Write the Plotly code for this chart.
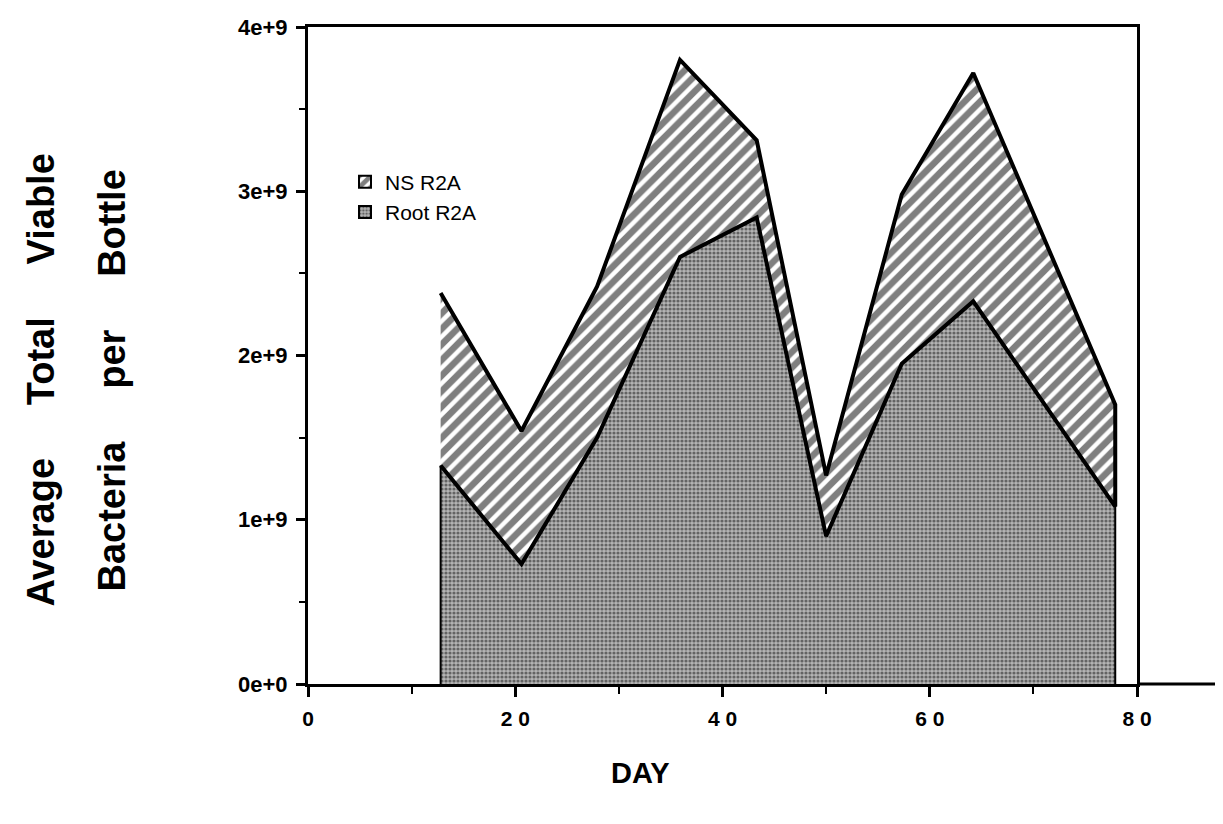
import plotly.graph_objects as go

# ---- data ----
days = [12.8, 20.6, 27.9, 35.9, 43.3, 50.0, 57.3, 64.2, 77.9]
root_r2a = [1.33e9, 0.73e9, 1.50e9, 2.60e9, 2.84e9, 0.90e9, 1.95e9, 2.33e9, 1.08e9]
ns_r2a = [1.05e9, 0.81e9, 0.92e9, 1.20e9, 0.47e9, 0.37e9, 1.03e9, 1.39e9, 0.62e9]

x_tickvals = [0, 20, 40, 60, 80]
x_ticktext = ["0", "2 0", "4 0", "6 0", "8 0"]
y_tickvals = [0, 1e9, 2e9, 3e9, 4e9]
y_ticktext = ["0e+0", "1e+9", "2e+9", "3e+9", "4e+9"]

# stacked top
top = [r + n for r, n in zip(root_r2a, ns_r2a)]

W, H = 1223, 824
L, R, T, B = 300, 94, 7, 148
pw, ph = W - L - R, H - T - B

NS_PATTERN = dict(shape="/", fgcolor="black", bgcolor="white", size=11, solidity=0.6)
ROOT_PATTERN = dict(shape=".", fgcolor="#111111", bgcolor="#b4b4b4", size=4, solidity=0.5)

fig = go.Figure()

# Root R2A (stippled) polygon down to the baseline
fig.add_trace(go.Scatter(
    x=[days[0]] + days + [days[-1]],
    y=[0] + root_r2a + [0],
    mode="lines", fill="toself",
    fillcolor="#8f8f8f", fillpattern=ROOT_PATTERN,
    line=dict(color="black", width=2),
    showlegend=False, hoverinfo="skip",
))

# NS R2A (hatched) band stacked on top
fig.add_trace(go.Scatter(
    x=days + days[::-1],
    y=top + root_r2a[::-1],
    mode="lines", fill="toself",
    fillcolor="white", fillpattern=NS_PATTERN,
    line=dict(color="black", width=4),
    showlegend=False, hoverinfo="skip",
))

# legend swatches (square patterned boxes)
fig.add_trace(go.Bar(x=[None], y=[None], name="NS R2A", legendgroup="ns",
                     marker=dict(color="white", pattern=NS_PATTERN, line=dict(color="black", width=2))))
fig.add_trace(go.Bar(x=[None], y=[None], name="Root R2A", legendgroup="root",
                     marker=dict(color="#8f8f8f", pattern=ROOT_PATTERN, line=dict(color="black", width=2))))

tickfont_y = dict(family="Liberation Sans", size=22, color="black", weight="bold")
tickfont_x = dict(family="Liberation Sans", size=21, color="black", weight="bold")

fig.update_layout(
    width=W, height=H,
    margin=dict(l=L, r=R, t=T, b=B),
    paper_bgcolor="white", plot_bgcolor="white",
    showlegend=True,
    legend=dict(
        x=(337 - L) / pw, y=(H - B - 144) / ph, xanchor="left", yanchor="top",
        font=dict(family="Liberation Sans", size=21, color="black"),
        bgcolor="rgba(0,0,0,0)", itemwidth=30, tracegroupgap=10,
        traceorder="normal",
    ),
    xaxis=dict(
        range=[0, 80], tickmode="array", tickvals=x_tickvals, ticktext=x_ticktext,
        ticks="outside", ticklen=10, tickwidth=3, tickcolor="black",
        showline=True, linewidth=3, linecolor="black", mirror=True,
        showgrid=False, zeroline=False, tickfont=tickfont_x, ticklabelstandoff=4,
        minor=dict(ticks="outside", ticklen=7, tickwidth=2, tickcolor="black", dtick=10, tick0=0, showgrid=False),
    ),
    yaxis=dict(
        range=[0, 4e9], tickmode="array", tickvals=y_tickvals, ticktext=y_ticktext,
        ticks="outside", ticklen=9, tickwidth=3, tickcolor="black",
        showline=True, linewidth=3, linecolor="black", mirror=True,
        showgrid=False, zeroline=False, tickfont=tickfont_y, ticklabelstandoff=4,
        ticklabeloverflow="allow",
        minor=dict(ticks="outside", ticklen=6, tickwidth=2, tickcolor="black", dtick=0.5e9, tick0=0, showgrid=False),
    ),
)

# x-axis line continues past the right frame (as in the reference)
fig.add_shape(type="line", xref="paper", yref="paper", x0=1, x1=(W - L) / pw, y0=0, y1=0,
              line=dict(color="black", width=3))

titlefont = dict(family="Liberation Sans", size=38, color="black", weight="bold")
SP = "\u00a0" * 5


def px_to_paper_x(px):
    return (px - L) / pw


def px_to_paper_y(py):
    return (H - B - py) / ph


fig.add_annotation(text="Average" + SP + "Total" + SP + "Viable", xref="paper", yref="paper",
                   x=px_to_paper_x(33), y=px_to_paper_y(367), textangle=-90,
                   showarrow=False, font=titlefont, xanchor="center", yanchor="middle")
fig.add_annotation(text="Bacteria" + SP + "per" + SP + "Bottle", xref="paper", yref="paper",
                   x=px_to_paper_x(104), y=px_to_paper_y(367), textangle=-90,
                   showarrow=False, font=titlefont, xanchor="center", yanchor="middle")
fig.add_annotation(text="DAY", xref="paper", yref="paper",
                   x=px_to_paper_x(632), y=px_to_paper_y(767),
                   showarrow=False, font=dict(family="Liberation Sans", size=29, color="black", weight="bold"),
                   xanchor="center", yanchor="middle")

fig.write_html("out.html")
